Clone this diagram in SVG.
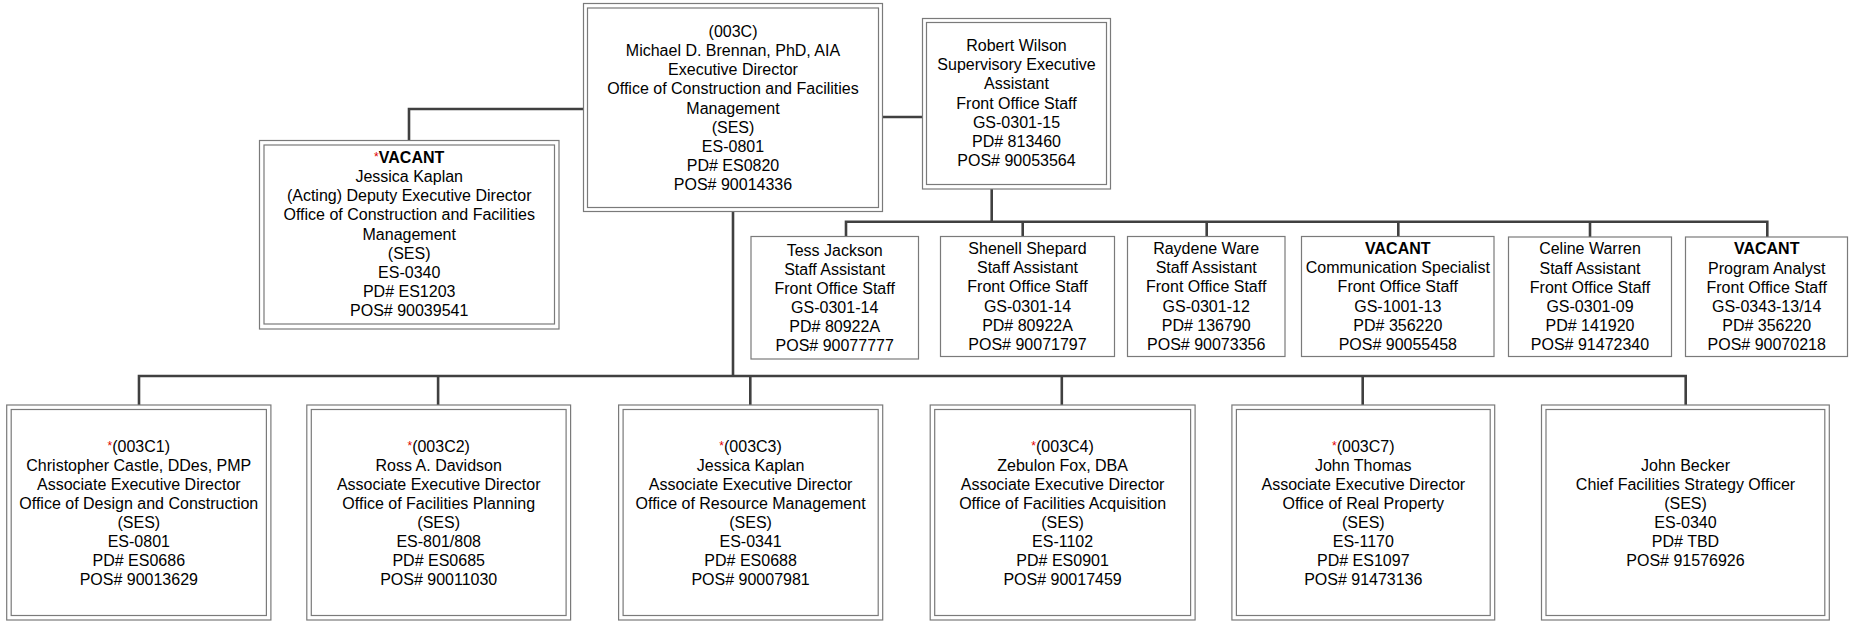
<svg xmlns="http://www.w3.org/2000/svg" width="1849" height="621" viewBox="0 0 1849 621">
<style>
.box{fill:#fff;stroke:#7a7a7a;stroke-width:1.2}
.t{font-family:"Liberation Sans",Arial,sans-serif;font-size:16px;fill:#000;text-anchor:middle}
.b{font-weight:bold}
.r{fill:#e00000}
.conn path{fill:none;stroke:#404040;stroke-width:2.6}
</style>
<rect width="1849" height="621" fill="#fff"/>
<g class="conn">
<path d="M583,109 H409 V140.5"/>
<path d="M883,117 H922.5"/>
<path d="M733,212 V376"/>
<path d="M139,405 V376 H1685.7 V405"/>
<path d="M438.1,376 V405"/>
<path d="M750.3,376 V405"/>
<path d="M1061.8,376 V405"/>
<path d="M1362.7,376 V405"/>
<path d="M991.7,189 V221.7"/>
<path d="M846,236.5 V221.7 H1767.3 V237"/>
<path d="M1022.7,221.7 V236.5"/>
<path d="M1206.7,221.7 V236.5"/>
<path d="M1398.3,221.7 V236.5"/>
<path d="M1590,221.7 V237"/>
</g>
<g id="n003C">
<rect class="box" x="583.5" y="3.5" width="299" height="208"/>
<rect class="box" x="587.5" y="8" width="291" height="199.5"/>
<text class="t" y="37.3"><tspan x="733">(003C)</tspan><tspan x="733" dy="19.05">Michael D. Brennan, PhD, AIA</tspan><tspan x="733" dy="19.05">Executive Director</tspan><tspan x="733" dy="19.05">Office of Construction and Facilities</tspan><tspan x="733" dy="19.05">Management</tspan><tspan x="733" dy="19.05">(SES)</tspan><tspan x="733" dy="19.05">ES-0801</tspan><tspan x="733" dy="19.05">PD# ES0820</tspan><tspan x="733" dy="19.05">POS# 90014336</tspan></text>
</g>
<g id="nWilson">
<rect class="box" x="922.5" y="18.5" width="188" height="170.5"/>
<rect class="box" x="926.5" y="22.5" width="180" height="162"/>
<text class="t" y="50.6"><tspan x="1016.5">Robert Wilson</tspan><tspan x="1016.5" dy="19.3">Supervisory Executive</tspan><tspan x="1016.5" dy="19.3">Assistant</tspan><tspan x="1016.5" dy="19.3">Front Office Staff</tspan><tspan x="1016.5" dy="19.3">GS-0301-15</tspan><tspan x="1016.5" dy="19.3">PD# 813460</tspan><tspan x="1016.5" dy="19.3">POS# 90053564</tspan></text>
</g>
<g id="nDeputy">
<rect class="box" x="259.5" y="140.5" width="299.5" height="188.5"/>
<rect class="box" x="264" y="145" width="290.5" height="179"/>
<text class="t" y="162.9"><tspan x="409.2"><tspan class="r" font-size="12" dy="-2">*</tspan><tspan class="b" dy="2">VACANT</tspan></tspan><tspan x="409.2" dy="19.17">Jessica Kaplan</tspan><tspan x="409.2" dy="19.17">(Acting) Deputy Executive Director</tspan><tspan x="409.2" dy="19.17">Office of Construction and Facilities</tspan><tspan x="409.2" dy="19.17">Management</tspan><tspan x="409.2" dy="19.17">(SES)</tspan><tspan x="409.2" dy="19.17">ES-0340</tspan><tspan x="409.2" dy="19.17">PD# ES1203</tspan><tspan x="409.2" dy="19.17">POS# 90039541</tspan></text>
</g>
<g id="nJackson">
<rect class="box" x="751" y="236.5" width="167.5" height="122.5"/>
<text class="t" y="255.6"><tspan x="834.7">Tess Jackson</tspan><tspan x="834.7" dy="19.1">Staff Assistant</tspan><tspan x="834.7" dy="19.1">Front Office Staff</tspan><tspan x="834.7" dy="19.1">GS-0301-14</tspan><tspan x="834.7" dy="19.1">PD# 80922A</tspan><tspan x="834.7" dy="19.1">POS# 90077777</tspan></text>
</g>
<g id="nShepard">
<rect class="box" x="940.5" y="236.5" width="174" height="120"/>
<text class="t" y="253.9"><tspan x="1027.5">Shenell Shepard</tspan><tspan x="1027.5" dy="19.2">Staff Assistant</tspan><tspan x="1027.5" dy="19.2">Front Office Staff</tspan><tspan x="1027.5" dy="19.2">GS-0301-14</tspan><tspan x="1027.5" dy="19.2">PD# 80922A</tspan><tspan x="1027.5" dy="19.2">POS# 90071797</tspan></text>
</g>
<g id="nWare">
<rect class="box" x="1127.5" y="236.5" width="157.5" height="120"/>
<text class="t" y="253.9"><tspan x="1206.2">Raydene Ware</tspan><tspan x="1206.2" dy="19.2">Staff Assistant</tspan><tspan x="1206.2" dy="19.2">Front Office Staff</tspan><tspan x="1206.2" dy="19.2">GS-0301-12</tspan><tspan x="1206.2" dy="19.2">PD# 136790</tspan><tspan x="1206.2" dy="19.2">POS# 90073356</tspan></text>
</g>
<g id="nComm">
<rect class="box" x="1301.5" y="236.5" width="192.5" height="120"/>
<text class="t" y="253.9"><tspan x="1397.8" class="b">VACANT</tspan><tspan x="1397.8" dy="19.2">Communication Specialist</tspan><tspan x="1397.8" dy="19.2">Front Office Staff</tspan><tspan x="1397.8" dy="19.2">GS-1001-13</tspan><tspan x="1397.8" dy="19.2">PD# 356220</tspan><tspan x="1397.8" dy="19.2">POS# 90055458</tspan></text>
</g>
<g id="nWarren">
<rect class="box" x="1508.5" y="237" width="163" height="119.5"/>
<text class="t" y="254.4"><tspan x="1590">Celine Warren</tspan><tspan x="1590" dy="19.2">Staff Assistant</tspan><tspan x="1590" dy="19.2">Front Office Staff</tspan><tspan x="1590" dy="19.2">GS-0301-09</tspan><tspan x="1590" dy="19.2">PD# 141920</tspan><tspan x="1590" dy="19.2">POS# 91472340</tspan></text>
</g>
<g id="nAnalyst">
<rect class="box" x="1685.5" y="237" width="162" height="119.5"/>
<text class="t" y="254.4"><tspan x="1766.7" class="b">VACANT</tspan><tspan x="1766.7" dy="19.2">Program Analyst</tspan><tspan x="1766.7" dy="19.2">Front Office Staff</tspan><tspan x="1766.7" dy="19.2">GS-0343-13/14</tspan><tspan x="1766.7" dy="19.2">PD# 356220</tspan><tspan x="1766.7" dy="19.2">POS# 90070218</tspan></text>
</g>
<g id="n003C1">
<rect class="box" x="6.7" y="405" width="264.2" height="215"/>
<rect class="box" x="11.2" y="409.5" width="255.2" height="206"/>
<text class="t" y="451.6"><tspan x="138.8"><tspan class="r" font-size="12" dy="-2">*</tspan><tspan dy="2">(003C1)</tspan></tspan><tspan x="138.8" dy="19">Christopher Castle, DDes, PMP</tspan><tspan x="138.8" dy="19">Associate Executive Director</tspan><tspan x="138.8" dy="19">Office of Design and Construction</tspan><tspan x="138.8" dy="19">(SES)</tspan><tspan x="138.8" dy="19">ES-0801</tspan><tspan x="138.8" dy="19">PD# ES0686</tspan><tspan x="138.8" dy="19">POS# 90013629</tspan></text>
</g>
<g id="n003C2">
<rect class="box" x="306.8" y="405" width="263.8" height="215"/>
<rect class="box" x="311.3" y="409.5" width="254.8" height="206"/>
<text class="t" y="451.6"><tspan x="438.7"><tspan class="r" font-size="12" dy="-2">*</tspan><tspan dy="2">(003C2)</tspan></tspan><tspan x="438.7" dy="19">Ross A. Davidson</tspan><tspan x="438.7" dy="19">Associate Executive Director</tspan><tspan x="438.7" dy="19">Office of Facilities Planning</tspan><tspan x="438.7" dy="19">(SES)</tspan><tspan x="438.7" dy="19">ES-801/808</tspan><tspan x="438.7" dy="19">PD# ES0685</tspan><tspan x="438.7" dy="19">POS# 90011030</tspan></text>
</g>
<g id="n003C3">
<rect class="box" x="618.6" y="405" width="264.1" height="215"/>
<rect class="box" x="623.1" y="409.5" width="255.1" height="206"/>
<text class="t" y="451.6"><tspan x="750.6"><tspan class="r" font-size="12" dy="-2">*</tspan><tspan dy="2">(003C3)</tspan></tspan><tspan x="750.6" dy="19">Jessica Kaplan</tspan><tspan x="750.6" dy="19">Associate Executive Director</tspan><tspan x="750.6" dy="19">Office of Resource Management</tspan><tspan x="750.6" dy="19">(SES)</tspan><tspan x="750.6" dy="19">ES-0341</tspan><tspan x="750.6" dy="19">PD# ES0688</tspan><tspan x="750.6" dy="19">POS# 90007981</tspan></text>
</g>
<g id="n003C4">
<rect class="box" x="930.2" y="405" width="264.9" height="215"/>
<rect class="box" x="934.7" y="409.5" width="255.9" height="206"/>
<text class="t" y="451.6"><tspan x="1062.6"><tspan class="r" font-size="12" dy="-2">*</tspan><tspan dy="2">(003C4)</tspan></tspan><tspan x="1062.6" dy="19">Zebulon Fox, DBA</tspan><tspan x="1062.6" dy="19">Associate Executive Director</tspan><tspan x="1062.6" dy="19">Office of Facilities Acquisition</tspan><tspan x="1062.6" dy="19">(SES)</tspan><tspan x="1062.6" dy="19">ES-1102</tspan><tspan x="1062.6" dy="19">PD# ES0901</tspan><tspan x="1062.6" dy="19">POS# 90017459</tspan></text>
</g>
<g id="n003C7">
<rect class="box" x="1231.9" y="405" width="262.8" height="215"/>
<rect class="box" x="1236.4" y="409.5" width="253.8" height="206"/>
<text class="t" y="451.6"><tspan x="1363.3"><tspan class="r" font-size="12" dy="-2">*</tspan><tspan dy="2">(003C7)</tspan></tspan><tspan x="1363.3" dy="19">John Thomas</tspan><tspan x="1363.3" dy="19">Associate Executive Director</tspan><tspan x="1363.3" dy="19">Office of Real Property</tspan><tspan x="1363.3" dy="19">(SES)</tspan><tspan x="1363.3" dy="19">ES-1170</tspan><tspan x="1363.3" dy="19">PD# ES1097</tspan><tspan x="1363.3" dy="19">POS# 91473136</tspan></text>
</g>
<g id="nBecker">
<rect class="box" x="1541.5" y="405" width="287.8" height="215"/>
<rect class="box" x="1546" y="409.5" width="278.8" height="206"/>
<text class="t" y="470.6"><tspan x="1685.5">John Becker</tspan><tspan x="1685.5" dy="19">Chief Facilities Strategy Officer</tspan><tspan x="1685.5" dy="19">(SES)</tspan><tspan x="1685.5" dy="19">ES-0340</tspan><tspan x="1685.5" dy="19">PD# TBD</tspan><tspan x="1685.5" dy="19">POS# 91576926</tspan></text>
</g>
</svg>
